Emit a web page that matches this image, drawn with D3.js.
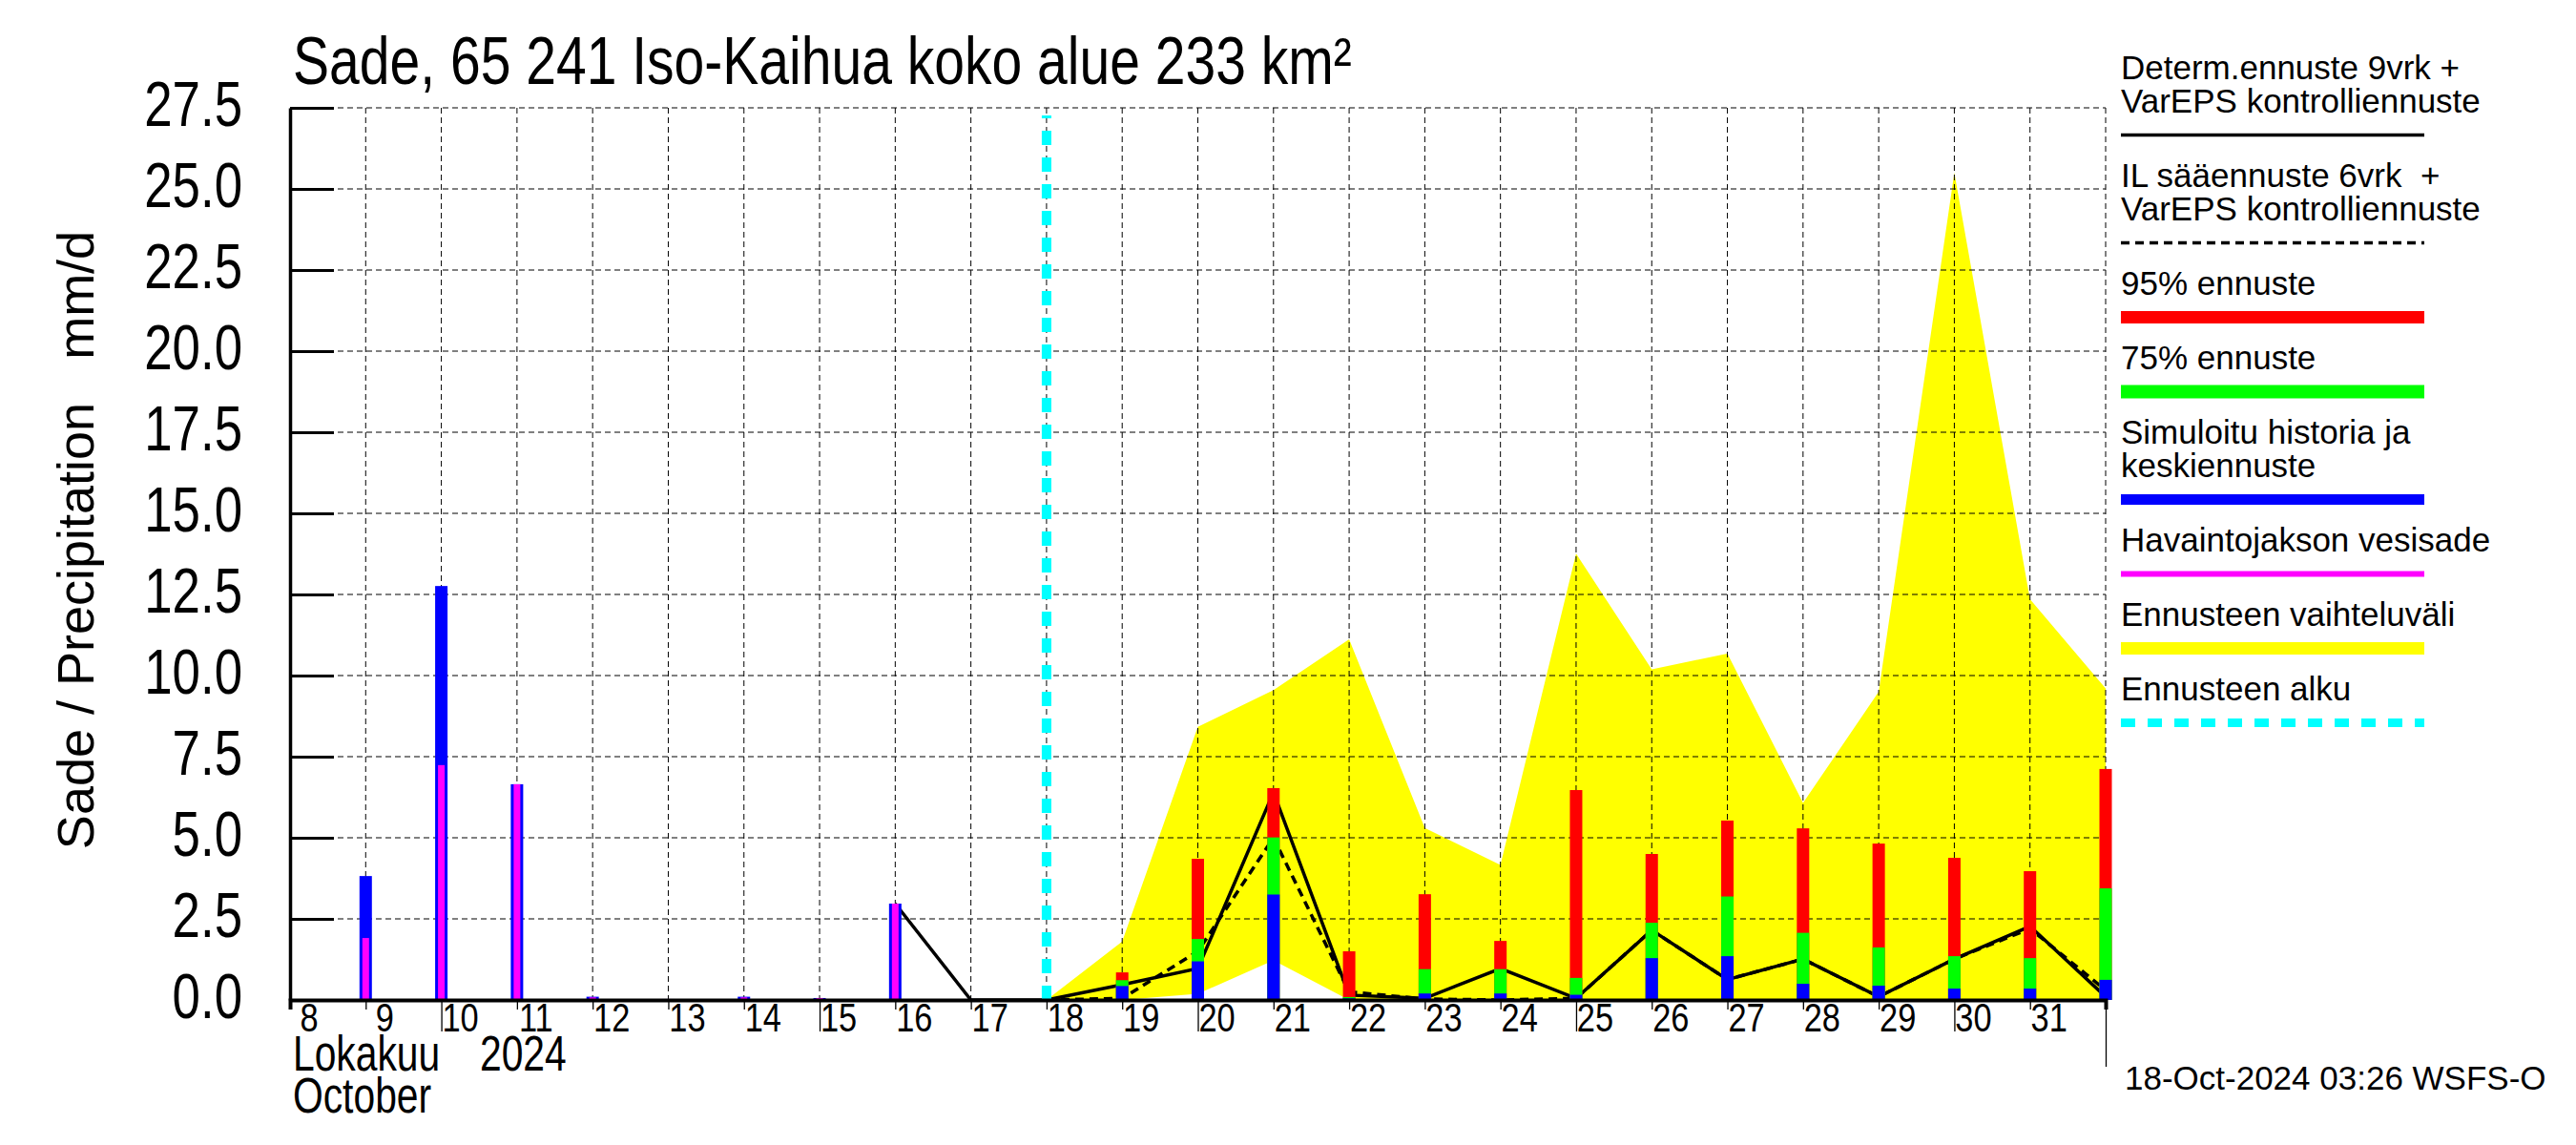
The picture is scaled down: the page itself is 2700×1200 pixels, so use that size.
<!DOCTYPE html>
<html>
<head>
<meta charset="utf-8">
<script src="https://cdn.jsdelivr.net/npm/d3@7"></script>
<style>
  body { margin: 0; background: #fff; }
  svg text { font-family: 'Liberation Sans', Arial, sans-serif; fill: #000; white-space: pre; }
</style>
</head>
<body>
<div id="chart"></div>
<script>
// --- data ---
// days of October, 32 = 1 November
var histDays = [9, 10, 11, 12, 13, 14, 15, 16, 17];
var histSim = [3.82, 12.76, 6.65, 0.10, 0.03, 0.10, 0.06, 2.97, 0.03];
var histObs = [1.91, 7.24, 6.65, 0.08, 0.03, 0.08, 0.06, 2.97, 0];

var fcDays = [19, 20, 21, 22, 23, 24, 25, 26, 27, 28, 29, 30, 31, 32];
var fc95 = [0.85, 4.35, 6.53, 1.50, 3.26, 1.82, 6.47, 4.50, 5.53, 5.29, 4.82, 4.38, 3.97, 7.12];
var fc75 = [0.61, 1.88, 5.01, 0.09, 0.95, 0.95, 0.68, 2.38, 3.19, 2.07, 1.62, 1.35, 1.29, 3.44];
var fcMed = [0.43, 1.19, 3.25, 0.05, 0.20, 0.20, 0.16, 1.29, 1.35, 0.50, 0.44, 0.35, 0.35, 0.62];

var detDays = [16, 17, 18, 19, 20, 21, 22, 23, 24, 25, 26, 27, 28, 29, 30, 31, 32];
var detVals = [2.97, 0, 0, 0.47, 0.97, 6.40, 0.15, 0.05, 0.97, 0.05, 2.15, 0.63, 1.26, 0.10, 1.26, 2.27, 0.10];

var ilDays = [18, 19, 20, 21, 22, 23, 24, 25, 26, 27, 28, 29, 30, 31, 32];
var ilVals = [0, 0.05, 1.50, 5.00, 0.25, 0.03, 0, 0.05, 2.15, 0.63, 1.26, 0.10, 1.26, 2.20, 0.30];

var rangeDays = [18, 19, 20, 21, 22, 23, 24, 25, 26, 27, 28, 29, 30, 31, 32];
var rangeHi = [0, 1.80, 8.42, 9.55, 11.12, 5.30, 4.16, 13.76, 10.19, 10.68, 6.07, 9.50, 25.50, 12.35, 9.60];
var rangeLo = [0, 0, 0.19, 1.22, 0, 0, 0, 0, 0, 0, 0, 0, 0, 0, 0];

var forecastStart = 18;
var yTicks = [0, 2.5, 5, 7.5, 10, 12.5, 15, 17.5, 20, 22.5, 25, 27.5];
var dayTicks = d3.range(8, 33);
var dayLabels = d3.range(8, 32);

var legendItems = [
    { lines: ['Determ.ennuste 9vrk +', 'VarEPS kontrolliennuste'], color: '#000', w: 3.5, dash: null },
    { lines: ['IL s\u00e4\u00e4ennuste 6vrk  +', 'VarEPS kontrolliennuste'], color: '#000', w: 3.5, dash: '9,6' },
    { lines: ['95% ennuste'], color: '#ff0000', w: 13, dash: null },
    { lines: ['75% ennuste'], color: '#00ff00', w: 14, dash: null },
    { lines: ['Simuloitu historia ja', 'keskiennuste'], color: '#0000ff', w: 11, dash: null },
    { lines: ['Havaintojakson vesisade'], color: '#ff00ff', w: 6, dash: null },
    { lines: ['Ennusteen vaihteluv\u00e4li'], color: '#ffff00', w: 13, dash: null },
    { lines: ['Ennusteen alku'], color: '#00ffff', w: 9, dash: '15,13' }
];

// --- layout ---
var W = 2700, H = 1200;
var plotL = 304, plotR = 2207, plotT = 113, plotB = 1048;
var narrow = 0.8; // the plot's labels use a condensed face

var svg = d3.select('#chart').append('svg')
    .attr('width', W).attr('height', H)
    .style('background', '#fff');

var x = d3.scaleLinear().domain([8, 32]).range([plotL, plotR]);
var y = d3.scaleLinear().domain([0, 27.5]).range([plotB, plotT]);

function narrowText(g, tx, ty, size, txt, anchor, sx) {
    return g.append('text')
        .attr('transform', `translate(${tx},${ty}) scale(${sx || narrow},1)`)
        .attr('text-anchor', anchor || 'start')
        .style('font-size', size + 'px')
        .text(txt);
}

// yellow forecast range
var rangeData = rangeDays.map((d, i) => ({ d: d, hi: rangeHi[i], lo: rangeLo[i] }));
svg.append('path')
    .datum(rangeData)
    .attr('fill', '#ffff00')
    .attr('d', d3.area().x(d => x(d.d)).y0(d => y(d.lo)).y1(d => y(d.hi)));

// grid
var grid = svg.append('g').attr('class', 'grid');
grid.selectAll('line.h')
    .data(yTicks.filter(v => v > 0))
    .join('line')
    .attr('x1', plotL).attr('x2', plotR)
    .attr('y1', d => y(d)).attr('y2', d => y(d))
    .attr('stroke', '#000').attr('stroke-width', 1).attr('stroke-dasharray', '6,4');
grid.selectAll('line.v')
    .data(d3.range(9, 33))
    .join('line')
    .attr('x1', d => x(d)).attr('x2', d => x(d))
    .attr('y1', plotT).attr('y2', plotB)
    .attr('stroke', '#000').attr('stroke-width', 1).attr('stroke-dasharray', '6,4');

// forecast lines
svg.append('path')
    .datum(ilDays.map((d, i) => [d, ilVals[i]]))
    .attr('fill', 'none').attr('stroke', '#000').attr('stroke-width', 3.5)
    .attr('stroke-dasharray', '9,6')
    .attr('d', d3.line().x(d => x(d[0])).y(d => y(d[1])));
svg.append('path')
    .datum(detDays.map((d, i) => [d, detVals[i]]))
    .attr('fill', 'none').attr('stroke', '#000').attr('stroke-width', 3.5)
    .attr('d', d3.line().x(d => x(d[0])).y(d => y(d[1])));

// history bars
var bars = svg.append('g');
bars.append('g').selectAll('rect')
    .data(histDays.map((d, i) => [d, histSim[i]]))
    .join('rect')
    .attr('x', d => x(d[0]) - 6.5).attr('width', 13)
    .attr('y', d => y(d[1])).attr('height', d => y(0) - y(d[1]))
    .attr('fill', '#0000ff');
bars.append('g').selectAll('rect')
    .data(histDays.map((d, i) => [d, histObs[i]]))
    .join('rect')
    .attr('x', d => x(d[0]) - 3.5).attr('width', 7)
    .attr('y', d => y(d[1])).attr('height', d => y(0) - y(d[1]))
    .attr('fill', '#ff00ff');

// forecast stacked bars (drawn tallest first)
[[fc95, '#ff0000'], [fc75, '#00ff00'], [fcMed, '#0000ff']].forEach(function (s) {
    bars.append('g').selectAll('rect')
        .data(fcDays.map((d, i) => [d, s[0][i]]))
        .join('rect')
        .attr('x', d => x(d[0]) - 6.5).attr('width', 13)
        .attr('y', d => y(d[1])).attr('height', d => y(0) - y(d[1]))
        .attr('fill', s[1]);
});

// forecast start
svg.append('line')
    .attr('x1', x(forecastStart)).attr('x2', x(forecastStart))
    .attr('y1', y(0)).attr('y2', y(27.5) + 8)
    .attr('stroke', '#00ffff').attr('stroke-width', 10)
    .attr('stroke-dasharray', '15,13');

// y axis
var yAxis = svg.append('g')
    .attr('transform', `translate(${plotL},0)`)
    .call(d3.axisLeft(y).tickValues(yTicks).tickFormat('').tickSizeInner(-46).tickSizeOuter(0));
yAxis.select('.domain').attr('stroke-width', 3.5);
yAxis.selectAll('.tick line').attr('stroke-width', 3);
var yLab = svg.append('g');
yTicks.forEach(v => narrowText(yLab, plotL - 50, y(v) + 19, 66, d3.format('.1f')(v), 'end'));

// x axis
var xAxis = svg.append('g')
    .attr('transform', `translate(0,${plotB})`)
    .call(d3.axisBottom(x).tickValues(dayTicks).tickFormat('').tickSizeOuter(0).tickSize(10));
xAxis.select('.domain').attr('stroke-width', 4);
xAxis.selectAll('.tick line')
    .attr('stroke-width', 1.3)
    .attr('y2', d => d === 32 ? 70 : (d % 5 === 0 ? 33 : 10));
var xLab = svg.append('g');
dayLabels.forEach(d => narrowText(xLab, x(d) + 20, 1081, 43, String(d), 'middle'));

narrowText(svg, 307, 1122, 51, 'Lokakuu');
narrowText(svg, 503, 1122, 51, '2024');
narrowText(svg, 307, 1166, 51, 'October');

// titles
narrowText(svg, 307, 88, 70, 'Sade, 65 241 Iso-Kaihua koko alue 233 km\u00b2', 'start', 0.815);

svg.append('text')
    .attr('transform', 'translate(98,566) rotate(-90)')
    .attr('text-anchor', 'middle')
    .style('font-size', '54px')
    .text('Sade / Precipitation   mm/d');

svg.append('text')
    .attr('x', 2227).attr('y', 1142)
    .style('font-size', '35px')
    .text('18-Oct-2024 03:26 WSFS-O');

// legend
var legendX = 2223, legendLineEnd = 2541;
var ly = 83;
var legend = svg.append('g');
legendItems.forEach(function (item) {
    item.lines.forEach(function (t, j) {
        legend.append('text')
            .attr('x', legendX).attr('y', ly + j * 35)
            .style('font-size', '35px')
            .text(t);
    });
    var lineY = ly + (item.lines.length - 1) * 35 + 23.5;
    legend.append('line')
        .attr('x1', legendX).attr('x2', legendLineEnd)
        .attr('y1', lineY).attr('y2', lineY)
        .attr('stroke', item.color).attr('stroke-width', item.w)
        .attr('stroke-dasharray', item.dash);
    ly = lineY + 54.5;
});
</script>
</body>
</html>
